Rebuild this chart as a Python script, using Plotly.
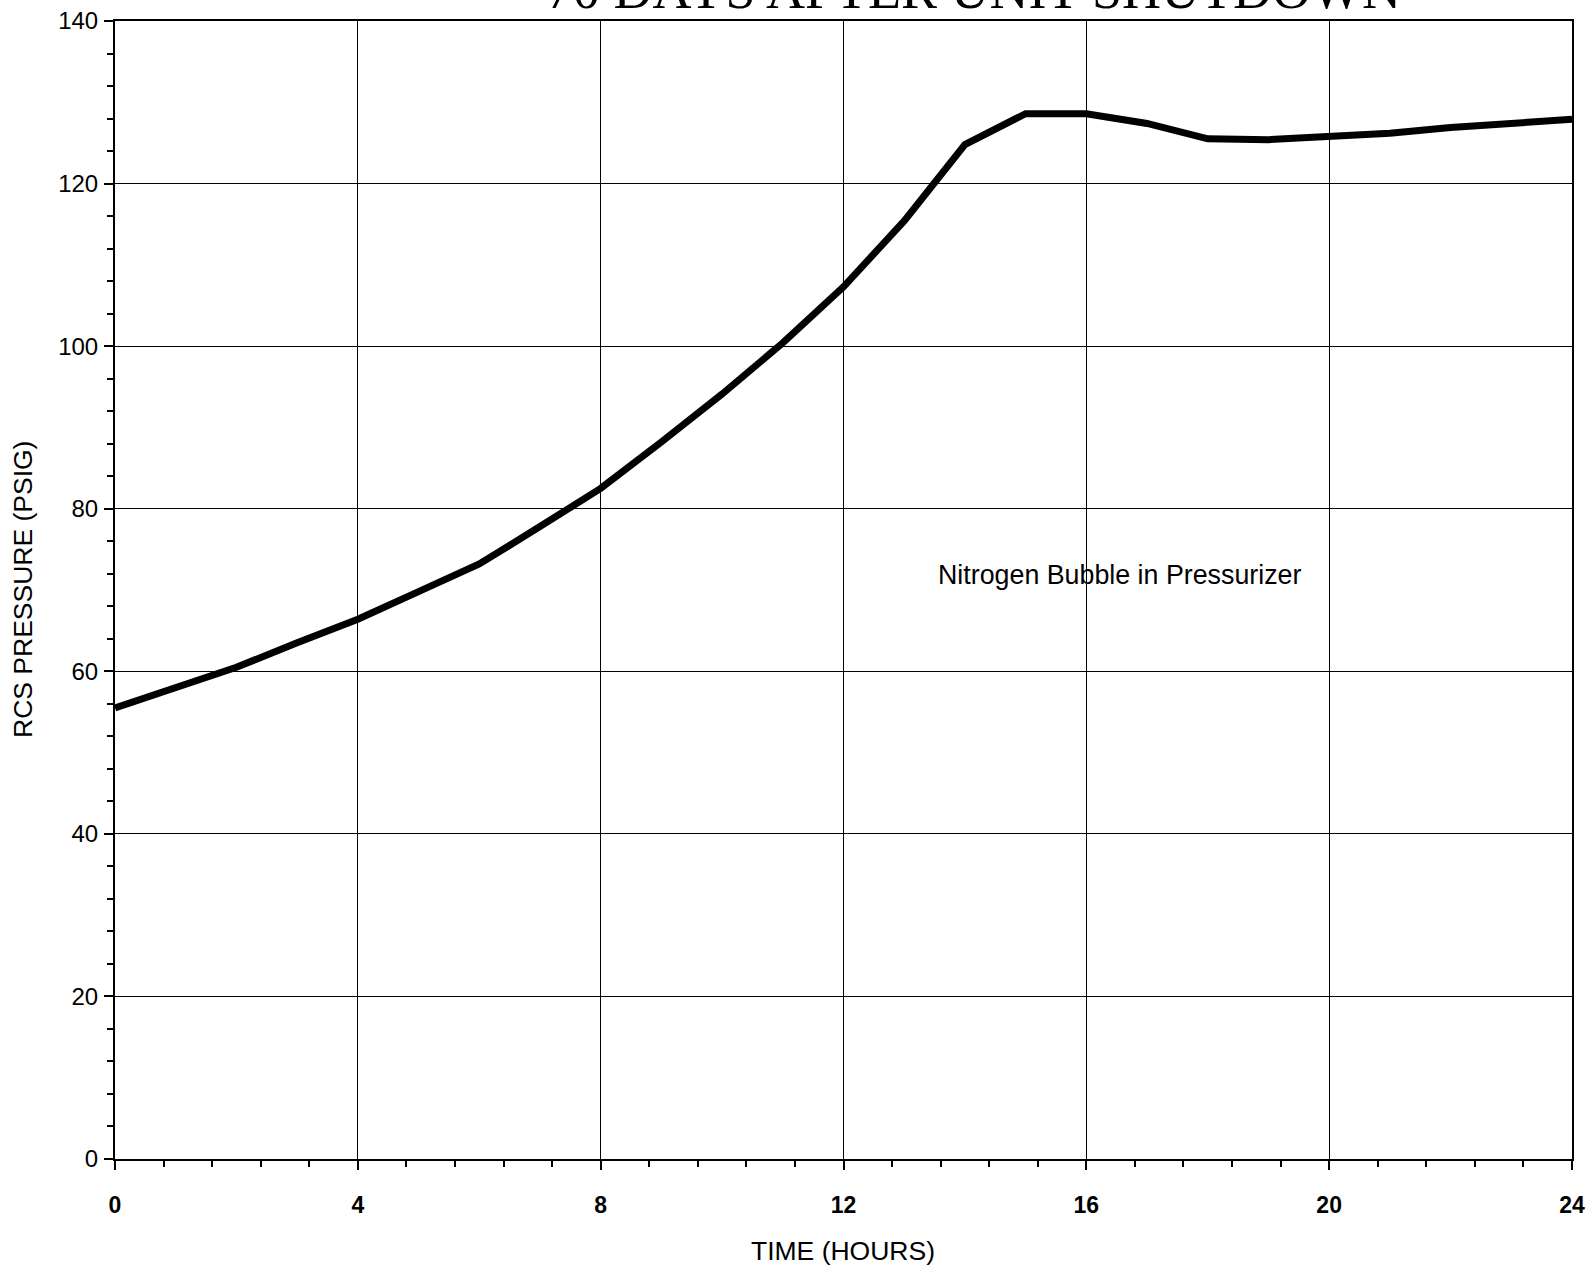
import plotly.graph_objects as go

hours = list(range(0, 25))
pressure = [55.5, 58.0, 60.5, 63.5, 66.4, 69.8, 73.2, 77.8, 82.5, 88.2,
            94.1, 100.4, 107.3, 115.4, 124.8, 128.6, 128.6, 127.4, 125.5,
            125.4, 125.7, 126.2, 126.9, 127.4, 127.9]

x_ticks = [0, 4, 8, 12, 16, 20, 24]
y_ticks = [0, 20, 40, 60, 80, 100, 120, 140]

title_text = "70 DAYS AFTER UNIT SHUTDOWN"
note_text = "Nitrogen Bubble in Pressurizer"
x_title = "TIME (HOURS)"
y_title = "RCS PRESSURE (PSIG)"

fig = go.Figure()
fig.add_trace(go.Scatter(x=hours, y=pressure, mode="lines",
                         line=dict(color="black", width=7), hoverinfo="skip",
                         showlegend=False))

font_family = "Liberation Sans, Arial, sans-serif"

W, H = 1593, 1270
L, R, T, B = 115, 21, 21, 111
PW, PH = W - L - R, H - T - B


def px_x(px):
    return (px - L) / PW


def px_y(py):
    return 1 - (py - T) / PH


fig.update_layout(
    width=W, height=H,
    margin=dict(l=L, r=R, t=T, b=B, autoexpand=False),
    paper_bgcolor="white", plot_bgcolor="white",
    showlegend=False,
    font=dict(family=font_family, color="black", size=24),
)

fig.update_xaxes(
    range=[0, 24], tickvals=x_ticks, ticktext=[str(v) for v in x_ticks],
    showgrid=True, gridcolor="black", gridwidth=1,
    showline=True, linecolor="black", linewidth=2, mirror=True,
    ticks="outside", ticklen=9, tickwidth=2, tickcolor="black",
    tickfont=dict(family=font_family, size=23, color="black", weight="bold"),
    ticklabelstandoff=15,
    minor=dict(dtick=0.8, tick0=0, ticks="outside", ticklen=6, tickwidth=1.5,
               tickcolor="black", showgrid=False),
    automargin=False,
    zeroline=False,
)
fig.update_yaxes(
    range=[0, 140], tickvals=y_ticks, ticktext=[str(v) for v in y_ticks],
    showgrid=True, gridcolor="black", gridwidth=1,
    showline=True, linecolor="black", linewidth=2, mirror=True,
    ticks="outside", ticklen=9, tickwidth=2, tickcolor="black",
    tickfont=dict(family=font_family, size=24, color="black"),
    ticklabelstandoff=1,
    minor=dict(dtick=4, tick0=0, ticks="outside", ticklen=6, tickwidth=1.5,
               tickcolor="black", showgrid=False),
    automargin=False,
    zeroline=False,
)

# axis titles
fig.add_annotation(x=px_x(843), y=px_y(1251), xref="paper", yref="paper",
                   text=x_title, showarrow=False, xanchor="center", yanchor="middle",
                   font=dict(family=font_family, size=26.5, color="black"))
fig.add_annotation(x=px_x(23), y=px_y(589), xref="paper", yref="paper",
                   text=y_title, showarrow=False, textangle=-90,
                   xanchor="center", yanchor="middle",
                   font=dict(family=font_family, size=26.5, color="black"))

fig.add_annotation(x=16.55, y=71.8, xref="x", yref="y", text=note_text,
                   showarrow=False,
                   font=dict(family=font_family, size=26.8, color="black"))

# title, partly cut off at the top edge as in the source scan
fig.add_annotation(x=px_x(973), y=px_y(-10), xref="paper", yref="paper",
                   text=title_text, showarrow=False, xanchor="center", yanchor="middle",
                   font=dict(family="Liberation Serif, Times New Roman, serif",
                             size=54, color="black"))

fig.write_html("out.html",
               config={"displayModeBar": False},
               post_script="document.body.style.margin='0';document.body.style.padding='0';")
